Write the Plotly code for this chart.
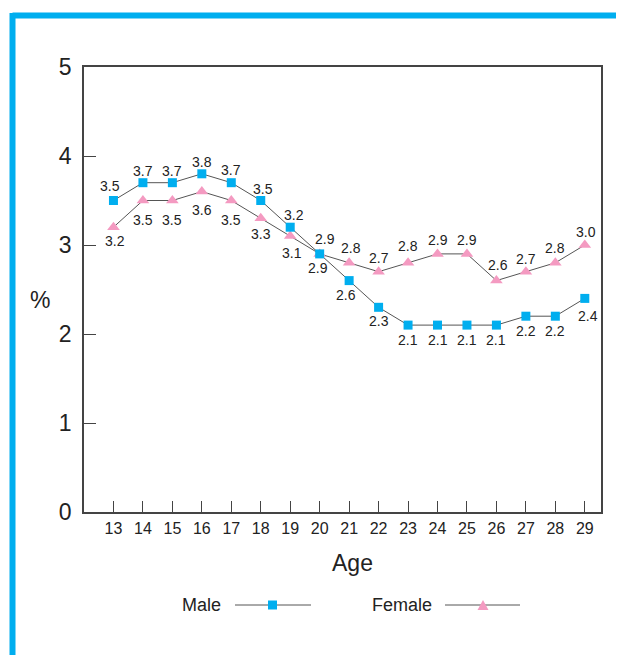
import plotly.graph_objects as go

ages = list(range(13, 30))
male = [3.5, 3.7, 3.7, 3.8, 3.7, 3.5, 3.2, 2.9, 2.6, 2.3, 2.1, 2.1, 2.1, 2.1, 2.2, 2.2, 2.4]
female = [3.2, 3.5, 3.5, 3.6, 3.5, 3.3, 3.1, 2.9, 2.8, 2.7, 2.8, 2.9, 2.9, 2.6, 2.7, 2.8, 3.0]
y_ticks = [0, 1, 2, 3, 4, 5]

# style: label offsets in px (positive = up)
male_dy = [15, 12, 12, 12, 13, 12, 12, 15, -14, -14, -15, -15, -15, -15, -15, -15, -18]
male_dx = [-3, 0, 0, 0, 0, 2, 4, 5, -3, 0, 0, 0, 0, 0, 0, 0, 3]
female_dy = [-14, -19, -19, -18, -19, -16, -17, -14, 15, 14, 17, 14, 14, 16, 13, 15, 13]
female_dx = [2, 0, 0, 0, 0, 0, 2, -2, 2, 0, 0, 0, 0, 2, 0, 0, 1]

BLUE = "#00AEEF"
PINK = "#F49AC1"
LINE = "#555555"
FONT = "Liberation Sans, Arial, sans-serif"

OFF = 8  # page body margin
FW, FH = 624 - OFF, 655 - OFF

fig = go.Figure()
fig.add_trace(go.Scatter(x=ages, y=female, mode="lines+markers", name="Female",
                         line=dict(color=LINE, width=1),
                         marker=dict(symbol="triangle-up", size=11, color=PINK),
                         showlegend=False))
fig.add_trace(go.Scatter(x=ages, y=male, mode="lines+markers", name="Male",
                         line=dict(color=LINE, width=1),
                         marker=dict(symbol="square", size=9, color=BLUE),
                         showlegend=False))

anns = []
for a, v, dx, dy in zip(ages, male, male_dx, male_dy):
    anns.append(dict(x=a, y=v, text=f"{v:.1f}", showarrow=False, xshift=dx, yshift=dy,
                     xanchor="center", yanchor="middle",
                     font=dict(size=14, color="#222", family=FONT)))
for a, v, dx, dy in zip(ages, female, female_dx, female_dy):
    anns.append(dict(x=a, y=v, text=f"{v:.1f}", showarrow=False, xshift=dx, yshift=dy,
                     xanchor="center", yanchor="middle",
                     font=dict(size=14, color="#222", family=FONT)))

L, R, T, B = 84, 601, 67, 512
W, H = R - L, B - T
def px(x):
    return (x - L) / W
def py(y):
    return (B - y) / H

anns.append(dict(xref="paper", yref="paper", x=px(352), y=py(563), text="Age", showarrow=False,
                 xanchor="center", yanchor="middle",
                 font=dict(size=23, color="#222", family=FONT)))
anns.append(dict(xref="paper", yref="paper", x=px(40), y=py(300), text="%", showarrow=False,
                 xanchor="center", yanchor="middle",
                 font=dict(size=23, color="#222", family=FONT)))
anns.append(dict(xref="paper", yref="paper", x=px(223), y=py(605), text="Male", showarrow=False,
                 xanchor="right", yanchor="middle", font=dict(size=18, color="#222", family=FONT)))
anns.append(dict(xref="paper", yref="paper", x=px(434), y=py(605), text="Female", showarrow=False,
                 xanchor="right", yanchor="middle", font=dict(size=18, color="#222", family=FONT)))

shapes = [
    # blue frame
    dict(type="line", xref="paper", yref="paper", x0=px(12.5), x1=px(640), y0=py(15.5), y1=py(15.5),
         line=dict(color=BLUE, width=6)),
    dict(type="line", xref="paper", yref="paper", x0=px(12.5), x1=px(12.5), y0=py(13), y1=py(670),
         line=dict(color=BLUE, width=6)),
    # legend lines
    dict(type="line", xref="paper", yref="paper", x0=px(235), x1=px(311), y0=py(605), y1=py(605),
         line=dict(color=LINE, width=1)),
    dict(type="line", xref="paper", yref="paper", x0=px(445), x1=px(520), y0=py(605), y1=py(605),
         line=dict(color=LINE, width=1)),
    # legend square
    dict(type="rect", xref="paper", yref="paper", x0=px(268), x1=px(277), y0=py(609.5), y1=py(600.5),
         fillcolor=BLUE, line=dict(width=0)),
    # legend triangle
    dict(type="path", xref="paper", yref="paper",
         path=f"M {px(477.5)} {py(610)} L {px(488.5)} {py(610)} L {px(483)} {py(600)} Z",
         fillcolor=PINK, line=dict(width=0)),
]

fig.update_layout(
    width=FW, height=FH,
    margin=dict(l=L - OFF, r=FW - (R - OFF), t=T - OFF, b=FH - (B - OFF)),
    paper_bgcolor="white", plot_bgcolor="white",
    annotations=anns, shapes=shapes,
    xaxis=dict(range=[12.0, 29.55], tickmode="array", tickvals=ages, ticktext=[str(a) for a in ages],
               ticks="inside", ticklen=11, tickcolor="#444", tickwidth=1,
               showline=True, linecolor="#444", linewidth=1.5, mirror=True,
               showgrid=False, zeroline=False,
               tickfont=dict(size=16, color="#222", family=FONT), ticklabelstandoff=1),
    yaxis=dict(range=[0, 5], tickmode="array", tickvals=y_ticks,
               ticks="inside", ticklen=12, tickcolor="#444", tickwidth=1,
               showline=True, linecolor="#444", linewidth=1.5, mirror=True,
               showgrid=False, zeroline=False,
               tickfont=dict(size=23, color="#222", family=FONT), ticklabelstandoff=6),
    font=dict(family=FONT),
)

fig.write_html("out.html")
